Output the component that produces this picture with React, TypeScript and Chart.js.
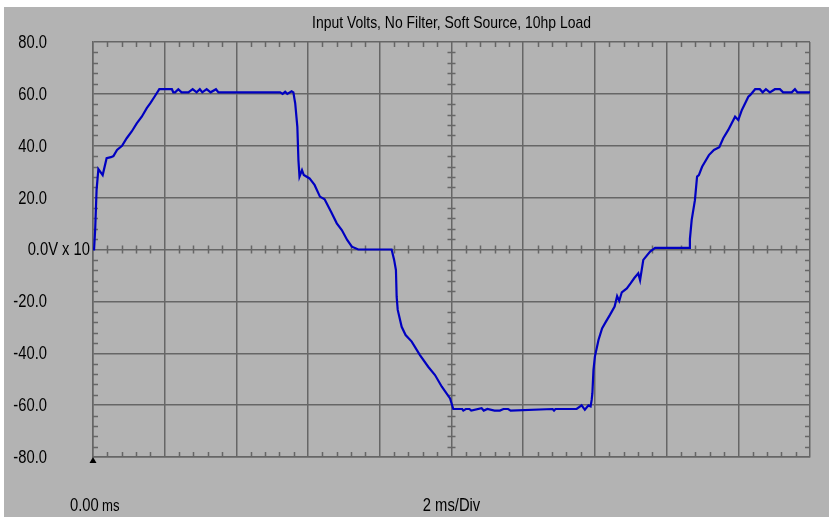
import React, { useEffect, useRef } from "react";
import { Chart, registerables } from "chart.js";

Chart.register(...registerables);

const titleText = "Input Volts, No Filter, Soft Source, 10hp Load";
const xStartValue = "0.00";
const xStartUnit = "ms";
const xDivLabel = "2 ms/Div";

const yTickValues = [80, 60, 40, 20, 0, -20, -40, -60, -80];
const yTickLabels = ["80.0", "60.0", "40.0", "20.0", "0.0V x 10", "-20.0", "-40.0", "-60.0", "-80.0"];

const timeMs = [
  0, 0.03, 0.06, 0.1, 0.15, 0.27, 0.38, 0.5, 0.57, 0.67, 0.81, 0.94, 1.08, 1.22, 1.36, 1.5, 1.6, 1.72, 1.85,
  2.2, 2.24, 2.29, 2.38, 2.47, 2.66, 2.78, 2.89, 2.98, 3.05, 3.17, 3.28, 3.43, 3.5, 5.22, 5.29, 5.36, 5.42, 5.54, 5.59,
  5.62, 5.64, 5.7, 5.73, 5.76, 5.83, 5.88, 6.04, 6.18, 6.33, 6.46, 6.64, 6.8, 6.94, 7.09, 7.22, 7.4, 8.33,
  8.4, 8.45, 8.47, 8.5, 8.61, 8.72, 8.89, 9.12, 9.35, 9.54, 9.73, 9.96, 10.05,
  10.3, 10.33, 10.4, 10.5, 10.55, 10.84, 10.9, 11.0, 11.2, 11.35, 11.45, 11.58, 11.65, 12.82, 12.86, 12.9, 13.49, 13.63, 13.72, 13.82, 13.88,
  13.91, 13.93, 13.96, 14.0, 14.1, 14.2, 14.3, 14.42, 14.55, 14.62, 14.68, 14.75, 14.89, 15.0, 15.1, 15.21, 15.26, 15.35, 15.54, 15.68, 16.63,
  16.65, 16.7, 16.79, 16.85, 16.9, 16.99, 17.18, 17.32, 17.47, 17.58, 17.72, 17.91, 18.0, 18.1, 18.28, 18.33, 18.47,
  18.6, 18.68, 18.77, 18.88, 19.02, 19.16, 19.25, 19.49, 19.58, 19.65, 20,
];

const volts = [
  0, 0, 7.5, 23, 31, 28.7, 35.2, 35.6, 36, 38.4, 40, 42.9, 45.5, 48.6, 51.2, 54.5, 56.4, 59, 61.8,
  61.8, 60.6, 60.6, 61.8, 60.6, 60.6, 61.8, 60.6, 61.8, 60.6, 61.8, 60.6, 61.8, 60.6, 60.6, 60.0, 60.8, 60.0, 61.0, 60.6,
  58, 56.4, 47.3, 34.5, 28.1, 30.6, 28.7, 27.4, 24.9, 20.4, 19.4, 14.6, 10.1, 7.5, 3.7, 1.1, 0, 0,
  -4, -7.9, -18.2, -23.3, -29.8, -33, -35.5, -40.7, -45.2, -48.4, -52.9, -57.4, -61.5,
  -61.5, -62.1, -61.5, -61.5, -62.1, -61.2, -62.1, -61.5, -62.1, -62.1, -61.5, -61.5, -62.1, -61.5, -62.1, -61.5, -61.5, -60.1, -61.8, -60.1, -60.5,
  -58, -55.4, -46.5, -41.3, -34.9, -30.4, -28, -25.2, -22, -18, -19.8, -16.5, -15, -13, -11, -9.2, -11.8, -4, -0.8, 0.6, 0.6,
  4, 11.4, 19, 28.1, 28.7, 31.9, 36.4, 38.4, 39.4, 42.9, 46.1, 51.2, 49.9, 53.8, 58.9, 59.5, 61.8,
  61.8, 60.6, 61.8, 60.6, 61.8, 61.8, 60.6, 60.6, 61.8, 60.6, 60.6,
];

const FONT = '"Liberation Sans", Arial, sans-serif';
const NARROW = 0.82;

function narrowText(ctx: CanvasRenderingContext2D, text: string, x: number, y: number, size: number, align: CanvasTextAlign) {
  ctx.save();
  ctx.translate(x, y);
  ctx.scale(NARROW, 1);
  ctx.font = `${size}px ${FONT}`;
  ctx.textAlign = align;
  ctx.textBaseline = "alphabetic";
  ctx.fillText(text, 0, 0);
  ctx.restore();
}

const scopePlugin = {
  id: "scopeDecor",
  beforeDraw(chart: any) {
    const ctx = chart.ctx;
    ctx.save();
    ctx.fillStyle = "#ffffff";
    ctx.fillRect(0, 0, chart.width, chart.height);
    ctx.fillStyle = "#b3b3b3";
    ctx.fillRect(4, 7, chart.width - 7, chart.height - 7);
    ctx.restore();
  },
  beforeDatasetsDraw(chart: any) {
    const ctx = chart.ctx;
    const xs = chart.scales.x;
    const ys = chart.scales.y;
    const { left, right, top, bottom } = chart.chartArea;
    const x0 = xs.getPixelForValue(10);
    const y0 = ys.getPixelForValue(0);
    ctx.save();
    ctx.strokeStyle = "#666666";
    ctx.lineWidth = 1.5;
    ctx.beginPath();
    for (let i = 0; i <= 50; i++) {
      if (i % 5 === 0) continue;
      const px = Math.round(xs.getPixelForValue(i * 0.4)) + 0.5;
      ctx.moveTo(px, top);
      ctx.lineTo(px, top + 5);
      ctx.moveTo(px, bottom);
      ctx.lineTo(px, bottom - 5);
      ctx.moveTo(px, y0 - 4);
      ctx.lineTo(px, y0 + 4);
    }
    for (let i = 0; i <= 40; i++) {
      if (i % 5 === 0) continue;
      const py = Math.round(ys.getPixelForValue(-80 + i * 4)) + 0.5;
      ctx.moveTo(left, py);
      ctx.lineTo(left + 5, py);
      ctx.moveTo(right, py);
      ctx.lineTo(right - 5, py);
      ctx.moveTo(x0 - 4, py);
      ctx.lineTo(x0 + 4, py);
    }
    ctx.stroke();
    ctx.restore();
  },
  afterDraw(chart: any) {
    const ctx = chart.ctx;
    const xs = chart.scales.x;
    const ys = chart.scales.y;
    const { left, bottom } = chart.chartArea;
    const cx = xs.getPixelForValue(10);
    ctx.save();
    ctx.fillStyle = "#000000";
    narrowText(ctx, titleText, cx, 28, 17, "center");
    yTickValues.forEach((v, i) => {
      const py = ys.getPixelForValue(v);
      const x = v === 0 ? left - 3 : 47;
      narrowText(ctx, yTickLabels[i], x, v === 0 ? py + 5 : py + 6, 18, "right");
    });
    narrowText(ctx, xStartValue, 70, 511, 18, "left");
    narrowText(ctx, xStartUnit, 102, 511, 16, "left");
    narrowText(ctx, xDivLabel, cx, 511, 18, "center");
    // trigger marker
    const tx = xs.getPixelForValue(0);
    ctx.beginPath();
    ctx.moveTo(tx, bottom);
    ctx.lineTo(tx - 3.5, bottom + 6);
    ctx.lineTo(tx + 3.5, bottom + 6);
    ctx.closePath();
    ctx.fill();
    ctx.restore();
  },
};

export default function App() {
  const ref = useRef<HTMLCanvasElement | null>(null);
  useEffect(() => {
    document.body.style.margin = "0";
    if (!ref.current) return;
    const chart = new Chart(ref.current, {
      type: "scatter",
      data: {
        datasets: [
          {
            data: timeMs.map((t, i) => ({ x: t, y: volts[i] })),
            showLine: true,
            borderColor: "#0000c0",
            borderWidth: 2.2,
            pointRadius: 0,
            tension: 0,
          },
        ],
      },
      options: {
        animation: false,
        responsive: false,
        maintainAspectRatio: false,
        layout: { padding: { left: 93, right: 22, top: 42, bottom: 60 } },
        plugins: { legend: { display: false }, tooltip: { enabled: false }, title: { display: false } },
        scales: {
          x: {
            type: "linear",
            min: 0,
            max: 20,
            ticks: { display: false, stepSize: 2 },
            grid: { color: "#666666", lineWidth: 1.5, drawTicks: false },
            border: { display: true, color: "#666666", width: 1.5 },
          },
          y: {
            type: "linear",
            min: -80,
            max: 80,
            ticks: { display: false, stepSize: 20 },
            grid: { color: "#666666", lineWidth: 1.5, drawTicks: false },
            border: { display: true, color: "#666666", width: 1.5 },
          },
        },
      },
      plugins: [scopePlugin],
    });
    return () => chart.destroy();
  }, []);
  return (
    <div style={{ width: 832, height: 517 }}>
      <canvas ref={ref} width={832} height={517} style={{ display: "block", width: 832, height: 517 }} />
    </div>
  );
}
